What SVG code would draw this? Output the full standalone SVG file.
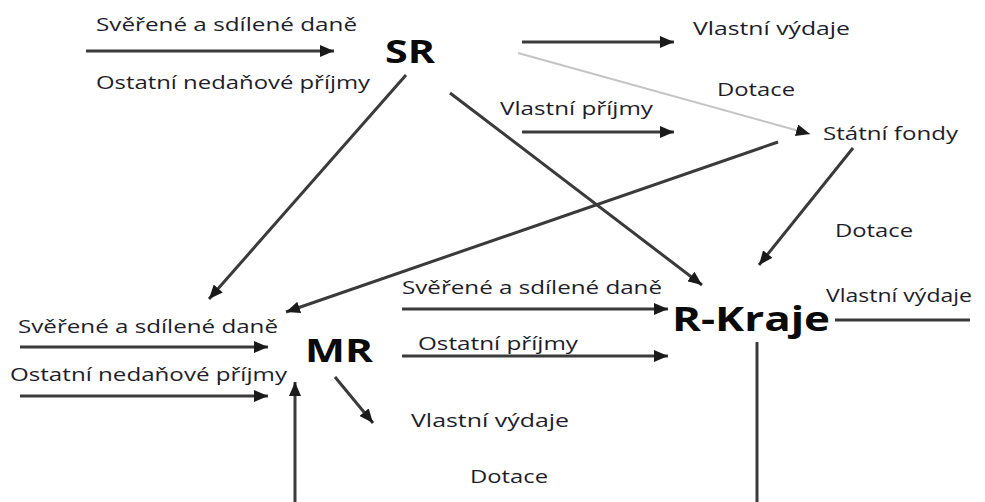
<svg xmlns="http://www.w3.org/2000/svg" width="985" height="502" viewBox="0 0 985 502">
<style>
.lbl{font-family:"Open Sans","Noto Sans","Liberation Sans",sans-serif;font-size:18px;fill:#1e1e2a}
.node{font-family:"Open Sans","Noto Sans","Liberation Sans",sans-serif;font-weight:bold;fill:#0a0a0a}
.c{stroke:#3a3a3a;stroke-width:3;fill:none}
.lt{stroke:#c4c4c4;stroke-width:2;fill:none}
</style>
<defs>
<marker id="ah" markerUnits="userSpaceOnUse" viewBox="0 0 14 12" refX="14" refY="6" markerWidth="14" markerHeight="12" orient="auto">
<path d="M0,0 L14,6 L0,12 z" fill="#1a1a1a"/>
</marker>
</defs>
<rect width="985" height="502" fill="#ffffff"/>
<g id="nodes">
<g id="SR"><text class="node" x="385" y="63" font-size="32" textLength="50" lengthAdjust="spacingAndGlyphs">SR</text></g>
<g id="MR"><text class="node" x="305" y="362" font-size="32" textLength="68" lengthAdjust="spacingAndGlyphs">MR</text></g>
<g id="RKraje"><text class="node" x="672" y="331" font-size="34" textLength="158" lengthAdjust="spacingAndGlyphs">R-Kraje</text></g>
<g id="StatniFondy"><text class="lbl" x="823" y="140" textLength="135" lengthAdjust="spacingAndGlyphs">Státní fondy</text></g>
</g>
<g id="connectors">
<line class="c" x1="86" y1="51" x2="334" y2="51" marker-end="url(#ah)"/>
<line class="c" x1="522" y1="42" x2="674" y2="42" marker-end="url(#ah)"/>
<line class="lt" x1="518" y1="53" x2="810" y2="134" marker-end="url(#ah)"/>
<line class="c" x1="522" y1="132" x2="674" y2="132" marker-end="url(#ah)"/>
<line class="c" x1="406" y1="75" x2="209" y2="299" marker-end="url(#ah)"/>
<line class="c" x1="450" y1="93" x2="702" y2="285" marker-end="url(#ah)"/>
<line class="c" x1="778" y1="142" x2="286" y2="312" marker-end="url(#ah)"/>
<line class="c" x1="853" y1="148" x2="759" y2="265" marker-end="url(#ah)"/>
<line class="c" x1="20" y1="347" x2="268" y2="347" marker-end="url(#ah)"/>
<line class="c" x1="20" y1="396" x2="268" y2="396" marker-end="url(#ah)"/>
<line class="c" x1="295" y1="502" x2="295" y2="382" marker-end="url(#ah)"/>
<line class="c" x1="335" y1="377" x2="373" y2="423" marker-end="url(#ah)"/>
<line class="c" x1="402" y1="309" x2="668" y2="309" marker-end="url(#ah)"/>
<line class="c" x1="402" y1="356" x2="668" y2="356" marker-end="url(#ah)"/>
<line class="c" x1="835" y1="320" x2="970" y2="320"/>
<line class="c" x1="757" y1="342" x2="757" y2="502"/>
</g>
<g id="labels">
<text class="lbl" x="96" y="31" textLength="261" lengthAdjust="spacingAndGlyphs">Svěřené a sdílené daně</text>
<text class="lbl" x="96" y="89" textLength="274" lengthAdjust="spacingAndGlyphs">Ostatní nedaňové příjmy</text>
<text class="lbl" x="693" y="35" textLength="157" lengthAdjust="spacingAndGlyphs">Vlastní výdaje</text>
<text class="lbl" x="717" y="96" textLength="78" lengthAdjust="spacingAndGlyphs">Dotace</text>
<text class="lbl" x="500" y="115" textLength="153" lengthAdjust="spacingAndGlyphs">Vlastní příjmy</text>
<text class="lbl" x="835" y="237" textLength="78" lengthAdjust="spacingAndGlyphs">Dotace</text>
<text class="lbl" x="402" y="294" textLength="260" lengthAdjust="spacingAndGlyphs">Svěřené a sdílené daně</text>
<text class="lbl" x="826" y="302" textLength="146" lengthAdjust="spacingAndGlyphs">Vlastní výdaje</text>
<text class="lbl" x="18" y="333" textLength="260" lengthAdjust="spacingAndGlyphs">Svěřené a sdílené daně</text>
<text class="lbl" x="418" y="350" textLength="160" lengthAdjust="spacingAndGlyphs">Ostatní příjmy</text>
<text class="lbl" x="10" y="381" textLength="277" lengthAdjust="spacingAndGlyphs">Ostatní nedaňové příjmy</text>
<text class="lbl" x="411" y="427" textLength="158" lengthAdjust="spacingAndGlyphs">Vlastní výdaje</text>
<text class="lbl" x="470" y="483" textLength="78" lengthAdjust="spacingAndGlyphs">Dotace</text>
</g>
</svg>
